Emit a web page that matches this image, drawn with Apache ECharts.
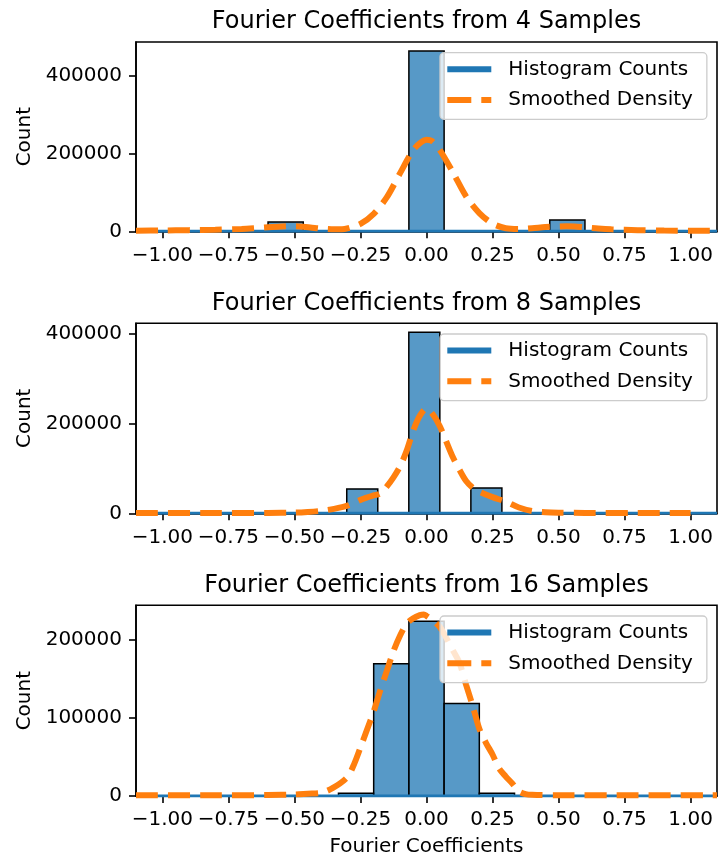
<!DOCTYPE html>
<html><head><meta charset="utf-8">
<script src="https://cdn.jsdelivr.net/npm/echarts@6/dist/echarts.min.js"></script>
<style>html,body{margin:0;padding:0;background:#fff}#c{width:718px;height:861px}</style>
</head><body><div id="c"></div>
<script>
// ---------------- data ----------------
const titles = ['Fourier Coefficients from 4 Samples', 'Fourier Coefficients from 8 Samples', 'Fourier Coefficients from 16 Samples'];
const xLabel = 'Fourier Coefficients';
const yLabel = 'Count';
const seriesNames = ['Histogram Counts', 'Smoothed Density'];
const xTicks = [-1, -0.75, -0.5, -0.25, 0, 0.25, 0.5, 0.75, 1];
const xRange = [-1.1, 1.1];
const yTicks4 = [0, 200000, 400000];
const yTicks8 = [0, 200000, 400000];
const yTicks16 = [0, 100000, 200000];

// histogram bin edges and counts
const binEdges4 = [-0.6, -0.4667, -0.3333, -0.2, -0.0667, 0.0667, 0.2, 0.3333, 0.4667, 0.6];
const counts4 = [24000, 0, 0, 0, 465000, 0, 0, 0, 29000];
const binEdges8 = [-0.537, -0.4195, -0.302, -0.1845, -0.067, 0.0505, 0.168, 0.2855, 0.403, 0.5205];
const counts8 = [1000, 0, 54500, 0, 404000, 0, 56500, 0, 1000];
const binEdges16 = [-0.3333, -0.2, -0.0667, 0.0667, 0.2, 0.3333];
const counts16 = [3500, 169000, 223300, 118000, 3500];

// smoothed density (scaled to counts)
const kdeX4 = [-1.1, -1.0, -0.9, -0.8, -0.7, -0.65, -0.6, -0.55, -0.52, -0.48, -0.44, -0.4, -0.36, -0.32, -0.3, -0.25, -0.2, -0.15, -0.1, -0.05, -0.02, 0, 0.02, 0.05, 0.1, 0.15, 0.2, 0.25, 0.3, 0.35, 0.4, 0.45, 0.5, 0.53, 0.56, 0.6, 0.65, 0.7, 0.8, 0.9, 1.0, 1.1];
const kdeY4 = [1500, 2000, 3000, 4000, 6000, 8000, 10500, 12500, 13000, 12500, 10000, 7000, 5500, 5500, 7500, 19000, 45000, 88000, 150000, 210000, 230000, 236000, 233000, 210000, 152000, 90000, 47000, 20000, 8000, 6000, 8000, 11000, 12500, 13000, 12500, 10000, 7000, 5000, 3000, 2000, 1500, 1200];
const kdeX8 = [-1.1, -0.8, -0.6, -0.5, -0.45, -0.4, -0.35, -0.3, -0.25, -0.2, -0.175, -0.15, -0.125, -0.1, -0.075, -0.05, -0.025, 0, 0.025, 0.05, 0.075, 0.1, 0.125, 0.15, 0.175, 0.2, 0.25, 0.3, 0.35, 0.4, 0.45, 0.5, 0.6, 0.8, 1.0];
const kdeY8 = [500, 500, 800, 1500, 3000, 5500, 10000, 17000, 30000, 40000, 44000, 60000, 80000, 105000, 140000, 185000, 218000, 234000, 220000, 195000, 160000, 125000, 97000, 72000, 57000, 48000, 36000, 26000, 13000, 5000, 2500, 1500, 800, 500, 500];
const kdeX16 = [-1.1, -0.8, -0.6, -0.5, -0.45, -0.4, -0.356, -0.3, -0.275, -0.25, -0.225, -0.2, -0.175, -0.15, -0.125, -0.1, -0.075, -0.05, -0.025, -0.01, 0, 0.025, 0.05, 0.075, 0.1, 0.125, 0.15, 0.175, 0.2, 0.225, 0.25, 0.275, 0.3, 0.325, 0.35, 0.375, 0.4, 0.5, 0.8, 1.1];
const kdeY16 = [1000, 1000, 1200, 2000, 3000, 4000, 10000, 24000, 40000, 62000, 85000, 108000, 135000, 160000, 185000, 205000, 220000, 227000, 231000, 232000, 230000, 224000, 216000, 202000, 186000, 170000, 142000, 115000, 86000, 68000, 53000, 35000, 25000, 16000, 6000, 2500, 1500, 1000, 1000, 1000];

// ---------------- chart ----------------
const panels = [
  {title: titles[0], edges: binEdges4, counts: counts4, kx: kdeX4, ky: kdeY4, yTicks: yTicks4},
  {title: titles[1], edges: binEdges8, counts: counts8, kx: kdeX8, ky: kdeY8, yTicks: yTicks8},
  {title: titles[2], edges: binEdges16, counts: counts16, kx: kdeX16, ky: kdeY16, yTicks: yTicks16}
];
const gridTops = [42, 323.3, 605.3];
const gridHeights = [189.3, 190, 190.7];
const gridLeft = 136, gridWidth = 581;
const FONT = 'DejaVu Sans';
const barFill = 'rgba(31,119,180,0.75)';
const blue = '#1f77b4', orange = '#ff7f0e';
const solidIcon = 'path://M0,1.5H44V4.5H0Z';
const dashIcon = 'path://M0,0H24V6H0Z M34,0H44V6H34Z';

function fmtX(v) {
  const s = Math.abs(v).toFixed(2);
  return v < -1e-9 ? '\u2212' + s : s;
}

function renderBar(params, api) {
  const p0 = api.coord([api.value(0), api.value(2)]);
  const p1 = api.coord([api.value(1), 0]);
  return {
    type: 'rect',
    shape: {x: p0[0], y: p0[1], width: p1[0] - p0[0], height: p1[1] - p0[1]},
    style: {fill: barFill, stroke: '#000', lineWidth: 1.5}
  };
}

const grids = [], xAxes = [], yAxes = [], series = [], legends = [], graphics = [];
panels.forEach((p, i) => {
  const ymax = Math.max(Math.max.apply(null, p.counts), Math.max.apply(null, p.ky)) * 1.05;
  grids.push({left: gridLeft, top: gridTops[i], width: gridWidth, height: gridHeights[i],
    show: true, borderColor: '#000', borderWidth: 1.6, backgroundColor: 'transparent'});
  xAxes.push({
    type: 'value', gridIndex: i, min: xRange[0], max: xRange[1],
    name: i === 2 ? xLabel : '', nameLocation: 'middle', nameGap: 41,
    nameTextStyle: {fontFamily: FONT, fontSize: 20, color: '#000'},
    axisLine: {show: true, onZero: false, lineStyle: {color: '#000', width: 1.6}},
    axisTick: {show: true, length: 7, lineStyle: {color: '#000', width: 1.6}, customValues: xTicks},
    axisLabel: {show: true, margin: 14, fontFamily: FONT, fontSize: 20, color: '#000', customValues: xTicks, formatter: fmtX},
    splitLine: {show: false}
  });
  yAxes.push({
    type: 'value', gridIndex: i, min: 0, max: ymax,
    name: yLabel, nameLocation: 'middle', nameGap: 93,
    nameTextStyle: {fontFamily: FONT, fontSize: 20, color: '#000'},
    axisLine: {show: true, onZero: false, lineStyle: {color: '#000', width: 1.6}},
    axisTick: {show: true, length: 7, lineStyle: {color: '#000', width: 1.6}, customValues: p.yTicks},
    axisLabel: {show: true, margin: 14, fontFamily: FONT, fontSize: 20, color: '#000', customValues: p.yTicks, formatter: v => String(Math.round(v))},
    splitLine: {show: false}
  });
  const barData = p.counts.map((c, j) => [p.edges[j], p.edges[j + 1], c]).filter(d => d[2] > 0);
  series.push({
    type: 'custom', name: 'hist' + i, xAxisIndex: i, yAxisIndex: i,
    renderItem: renderBar, data: barData, encode: {x: [0, 1], y: 2}, z: 2, silent: true
  });
  series.push({
    type: 'line', name: seriesNames[0], xAxisIndex: i, yAxisIndex: i,
    data: [[xRange[0], 0], [xRange[1], 0]], symbol: 'none', z: 3, silent: true,
    color: blue, lineStyle: {color: blue, width: 3}
  });
  series.push({
    type: 'line', name: seriesNames[1], xAxisIndex: i, yAxisIndex: i,
    data: p.kx.map((x, j) => [x, p.ky[j]]), symbol: 'none', smooth: 0.3, z: 4, silent: true,
    color: orange, lineStyle: {color: orange, width: 6, type: [22, 10], cap: 'butt'}
  });
  legends.push({
    data: [
      {name: seriesNames[0], icon: solidIcon, itemStyle: {color: blue}},
      {name: seriesNames[1], icon: dashIcon, itemStyle: {color: orange}}
    ],
    orient: 'vertical', left: 440, top: gridTops[i] + 10.7,
    padding: [6.6, 14, 9.3, 7.3], itemGap: 10.7, itemWidth: 44, itemHeight: 6, symbolKeepAspect: false,
    backgroundColor: 'rgba(255,255,255,0.8)', borderColor: '#cccccc', borderWidth: 1.3, borderRadius: 4,
    textStyle: {fontFamily: FONT, fontSize: 20, color: '#000', padding: [0, 0, 0, 12], lineHeight: 20},
    selectedMode: false, z: 10
  });
  graphics.push({
    type: 'text', x: gridLeft + gridWidth / 2, y: gridTops[i] - 20,
    style: {text: p.title, fontFamily: FONT, fontSize: 24, fill: '#000', textAlign: 'center', textVerticalAlign: 'middle'}
  });
});

const chart = echarts.init(document.getElementById('c'), null, {renderer: 'canvas'});
chart.setOption({
  animation: false,
  backgroundColor: '#fff',
  grid: grids, xAxis: xAxes, yAxis: yAxes, series: series, legend: legends, graphic: graphics
});
</script>
</body></html>
